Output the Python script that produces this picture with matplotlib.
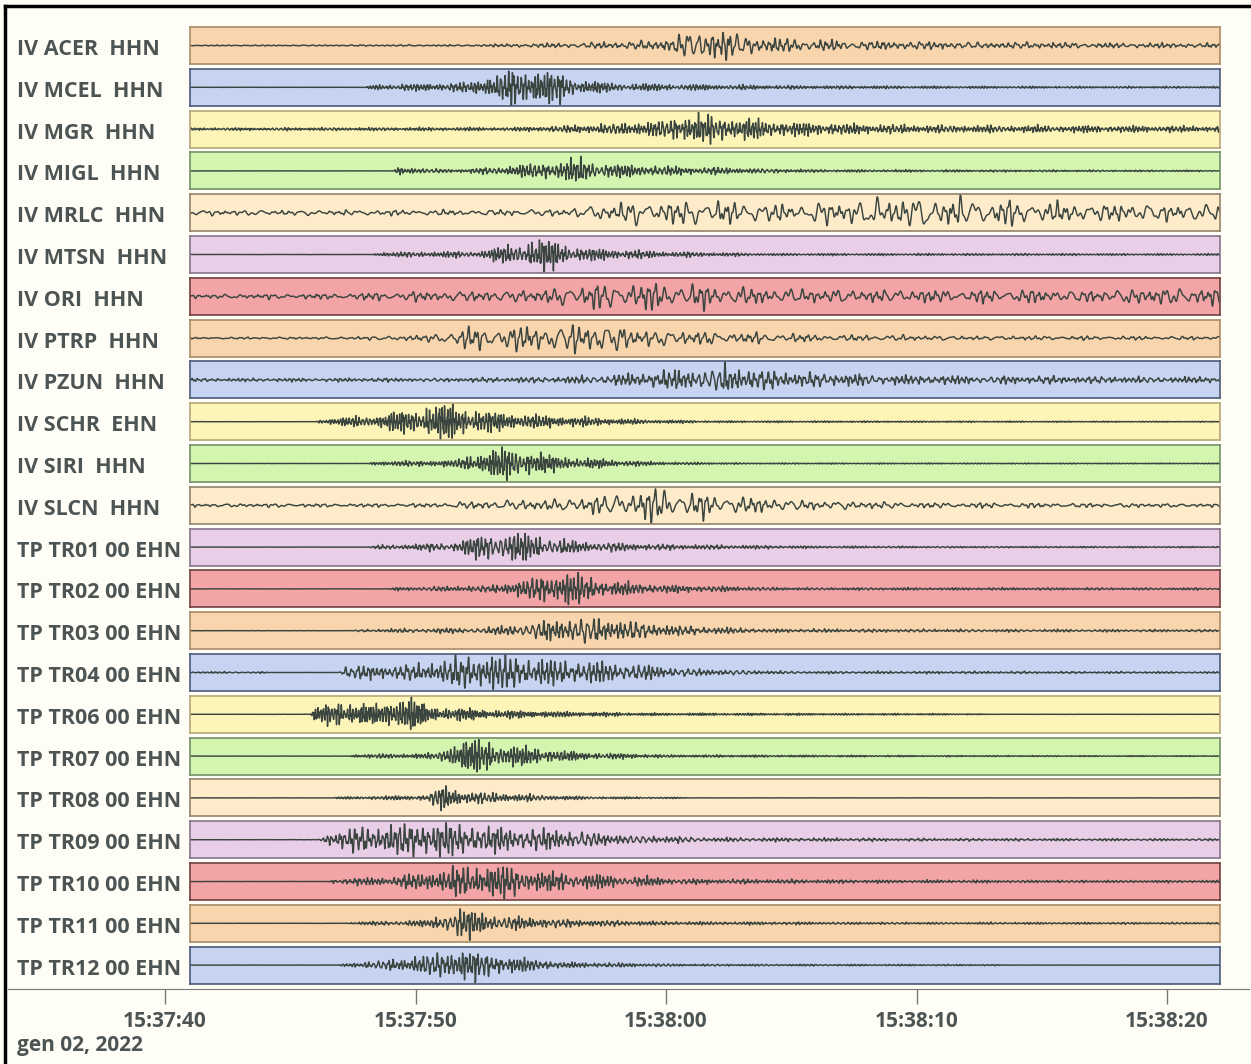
import datetime as dt
import numpy as np
import matplotlib
matplotlib.use('Agg')
import matplotlib.pyplot as plt
import matplotlib.dates as mdates

# station labels, top to bottom
stations = ['IV ACER  HHN', 'IV MCEL  HHN', 'IV MGR  HHN', 'IV MIGL  HHN',
            'IV MRLC  HHN', 'IV MTSN  HHN', 'IV ORI  HHN', 'IV PTRP  HHN',
            'IV PZUN  HHN', 'IV SCHR  EHN', 'IV SIRI  HHN', 'IV SLCN  HHN',
            'TP TR01 00 EHN', 'TP TR02 00 EHN', 'TP TR03 00 EHN', 'TP TR04 00 EHN',
            'TP TR06 00 EHN', 'TP TR07 00 EHN', 'TP TR08 00 EHN', 'TP TR09 00 EHN',
            'TP TR10 00 EHN', 'TP TR11 00 EHN', 'TP TR12 00 EHN']

# envelope keypoints: seconds after 15:37:40, amplitude (1 = panel edge)
env_t = [
    [1, 12, 16, 19.5, 21, 22, 23.5, 26, 30, 36, 42.1],
    [1, 8.0, 8.3, 12, 13.8, 15.0, 16.5, 18, 25, 32, 42.1],
    [1, 14, 17, 19.5, 21, 23, 25, 30, 42.1],
    [1, 9.1, 9.3, 10.5, 12, 15, 16.6, 18, 21, 26, 42.1],
    [1, 10, 16, 18, 22, 25, 28, 31, 33, 36, 42.1],
    [1, 8.3, 8.5, 12.5, 14.5, 15.2, 16.5, 20, 24, 42.1],
    [1, 6, 10, 15, 17, 19, 22, 24, 30, 38, 39.5, 42.1],
    [1, 7, 10.5, 12, 15, 17.5, 19, 22, 26, 32, 42.1],
    [1, 12, 16, 19, 22.5, 23.5, 25, 30, 42.1],
    [1, 6.0, 6.3, 8.5, 10, 11.2, 12.5, 15, 19, 22, 42.1],
    [1, 8.1, 8.4, 11.5, 13.0, 13.8, 15.5, 17, 19.5, 23, 42.1],
    [1, 10, 12.5, 16, 18.5, 19.4, 21, 23, 26, 30, 42.1],
    [1, 8.1, 8.4, 11.5, 13.2, 15, 16, 19.5, 25, 30, 42.1],
    [1, 8.9, 9.2, 13, 14.5, 16, 17.5, 20, 25, 42.1],
    [1, 7.5, 7.8, 13, 15, 16.6, 18.5, 20.5, 24, 42.1],
    [1, 4.0, 4.1, 6.9, 7.2, 10, 12.8, 15, 18, 21, 25, 42.1],
    [1, 5.8, 6.0, 7, 8.5, 9.5, 10.5, 13.5, 19, 32, 33, 42.1],
    [1, 7.3, 7.6, 10.8, 11.6, 12.3, 14, 16.5, 20, 30, 42.1],
    [1, 6.7, 7.0, 10.5, 11.0, 12, 14, 17, 20.5, 21, 42.1],
    [1, 6.1, 6.5, 8, 10.6, 13, 16, 18.5, 22, 30, 42.1],
    [1, 6.5, 6.8, 9, 11, 13, 15, 18, 21, 28, 42.1],
    [1, 7.2, 7.5, 10.5, 11.7, 13.5, 16, 20, 30, 42.1],
    [1, 6.9, 7.2, 9.5, 11.8, 13.5, 16, 21, 33, 34, 42.1],
]
env_a = [
    [0.02, 0.04, 0.12, 0.2, 0.65, 0.8, 0.4, 0.25, 0.18, 0.13, 0.1],
    [0.005, 0.005, 0.12, 0.2, 0.75, 0.85, 0.35, 0.18, 0.08, 0.05, 0.04],
    [0.06, 0.08, 0.2, 0.35, 0.65, 0.5, 0.3, 0.18, 0.13],
    [0.005, 0.005, 0.2, 0.1, 0.08, 0.35, 0.55, 0.3, 0.18, 0.06, 0.03],
    [0.12, 0.12, 0.18, 0.45, 0.55, 0.35, 0.6, 0.75, 0.6, 0.45, 0.4],
    [0.005, 0.005, 0.1, 0.15, 0.6, 0.75, 0.3, 0.13, 0.05, 0.04],
    [0.1, 0.12, 0.22, 0.3, 0.6, 0.65, 0.5, 0.35, 0.3, 0.3, 0.4, 0.4],
    [0.04, 0.06, 0.15, 0.5, 0.6, 0.75, 0.4, 0.3, 0.16, 0.1, 0.08],
    [0.07, 0.09, 0.15, 0.3, 0.65, 0.45, 0.35, 0.2, 0.13],
    [0.005, 0.005, 0.12, 0.3, 0.6, 0.85, 0.5, 0.28, 0.1, 0.04, 0.02],
    [0.005, 0.005, 0.1, 0.15, 0.6, 0.75, 0.35, 0.22, 0.08, 0.03, 0.02],
    [0.08, 0.08, 0.18, 0.3, 0.6, 0.8, 0.6, 0.4, 0.22, 0.13, 0.08],
    [0.005, 0.005, 0.08, 0.2, 0.75, 0.55, 0.3, 0.13, 0.06, 0.04, 0.03],
    [0.005, 0.005, 0.08, 0.15, 0.45, 0.8, 0.35, 0.18, 0.06, 0.05],
    [0.005, 0.005, 0.06, 0.15, 0.45, 0.65, 0.45, 0.22, 0.08, 0.05],
    [0.04, 0.04, 0.005, 0.005, 0.3, 0.35, 0.85, 0.6, 0.45, 0.18, 0.06, 0.04],
    [0.005, 0.005, 0.3, 0.55, 0.4, 0.9, 0.35, 0.18, 0.06, 0.03, 0.005, 0.005],
    [0.005, 0.005, 0.08, 0.12, 0.65, 0.75, 0.45, 0.18, 0.06, 0.03, 0.02],
    [0.005, 0.005, 0.05, 0.12, 0.6, 0.3, 0.18, 0.06, 0.03, 0.005, 0.005],
    [0.005, 0.005, 0.3, 0.6, 0.8, 0.6, 0.45, 0.22, 0.1, 0.06, 0.05],
    [0.005, 0.005, 0.12, 0.2, 0.5, 0.8, 0.45, 0.28, 0.12, 0.07, 0.05],
    [0.005, 0.005, 0.06, 0.15, 0.7, 0.35, 0.18, 0.08, 0.05, 0.04],
    [0.005, 0.005, 0.08, 0.3, 0.75, 0.4, 0.13, 0.05, 0.03, 0.005, 0.005],
]
# dominant frequency of each trace (Hz)
dom_freq = [3.5, 7.0, 7.0, 6.5, 2.2, 7.0, 2.5, 2.5, 4.5, 8.0, 7.5, 2.5,
            6.0, 6.0, 5.0, 5.0, 9.0, 7.5, 7.0, 5.0, 6.0, 6.0, 6.0]

fills = ['#f9d5ad', '#c6d4f1', '#fdf4b8', '#d4f5b0', '#fdebca', '#e9cee7', '#f2a4a6']
edges = ['#a88b66', '#4a5a78', '#b6a77a', '#74906a', '#93836a', '#85768a', '#6e4040']

t0 = dt.datetime(2022, 1, 2, 15, 37, 40)
x0 = mdates.date2num(t0)
sec = 1.0 / 86400.0


def trace(i):
    t = np.arange(1.0, 42.12, 0.01)
    f = dom_freq[i]
    k = 1.3 * i + 0.4
    ph = 2 * np.pi * f * t + 2.5 * np.sin(2 * np.pi * 0.45 * t + k)
    w = (np.sin(ph) + 0.55 * np.sin(2.37 * ph + k)
         + 0.35 * np.sin(2 * np.pi * 1.91 * f * t + 3 * k))
    am = 0.65 + 0.35 * np.sin(2 * np.pi * 1.3 * t + k) * np.sin(2 * np.pi * 0.77 * t + 2 * k)
    env = np.interp(t, env_t[i], env_a[i])
    return t, w / 1.15 * am * env


W, H = 1251, 1064
fig = plt.figure(figsize=(W / 100, H / 100), dpi=100)
fig.patch.set_facecolor('#fffef6')
font = ['Open Sans', 'DejaVu Sans']
txt_col = '#4d5454'

left, right = 190, 1220
top0, pitch, ph_px = 27, 41.8, 37
xl = (x0 + 1.0 * sec, x0 + 42.12 * sec)

for i, name in enumerate(stations):
    y_top = top0 + pitch * i
    ax = fig.add_axes([left / W, 1 - (y_top + ph_px) / H, (right - left) / W, ph_px / H])
    ax.set_facecolor(fills[i % 7])
    for s in ax.spines.values():
        s.set_color(edges[i % 7])
        s.set_linewidth(1.2)
    t, y = trace(i)
    ax.plot(x0 + t * sec, y, color='#3b4540', linewidth=1.05)
    ax.set_xlim(xl)
    ax.set_ylim(-1, 1)
    ax.set_xticks([])
    ax.set_yticks([])
    fig.text(17 / W, 1 - (y_top + ph_px / 2 + 4) / H, name, ha='left', va='center',
             fontsize=15.5, fontweight='bold', color=txt_col, family=font)

# bottom time axis
tax = fig.add_axes([8 / W, 1 - 989 / H, (1249 - 8) / W, 0.5 / H])
tax.patch.set_alpha(0)
for s in ['top', 'left', 'right']:
    tax.spines[s].set_visible(False)
tax.spines['bottom'].set_color('#777777')
tax.set_yticks([])
tax.set_xlim(x0 + (8 - 165) / 25.05 * sec, x0 + (1249 - 165) / 25.05 * sec)
tax.xaxis.set_major_locator(mdates.SecondLocator(bysecond=[0, 10, 20, 30, 40, 50]))
tax.xaxis.set_major_formatter(mdates.DateFormatter('%H:%M:%S'))
tax.tick_params(axis='x', direction='out', length=11, width=1, color='#777777',
                pad=5, labelsize=15, labelcolor=txt_col)
for lab in tax.get_xticklabels():
    lab.set_fontweight('bold')
    lab.set_family(font)
fig.text(17 / W, 1 - 1046 / H, 'gen 02, 2022', ha='left', va='center',
         fontsize=15, fontweight='bold', color=txt_col, family=font)

# frame on the top and left edge
fig.add_artist(plt.Line2D([5 / W, 5 / W], [0, 1 - 6 / H], color='black', linewidth=2.5,
                          transform=fig.transFigure))
fig.add_artist(plt.Line2D([5 / W, 1], [1 - 6 / H, 1 - 6 / H], color='black', linewidth=2.5,
                          transform=fig.transFigure))

fig.savefig('out.png', dpi=100, facecolor=fig.get_facecolor())
